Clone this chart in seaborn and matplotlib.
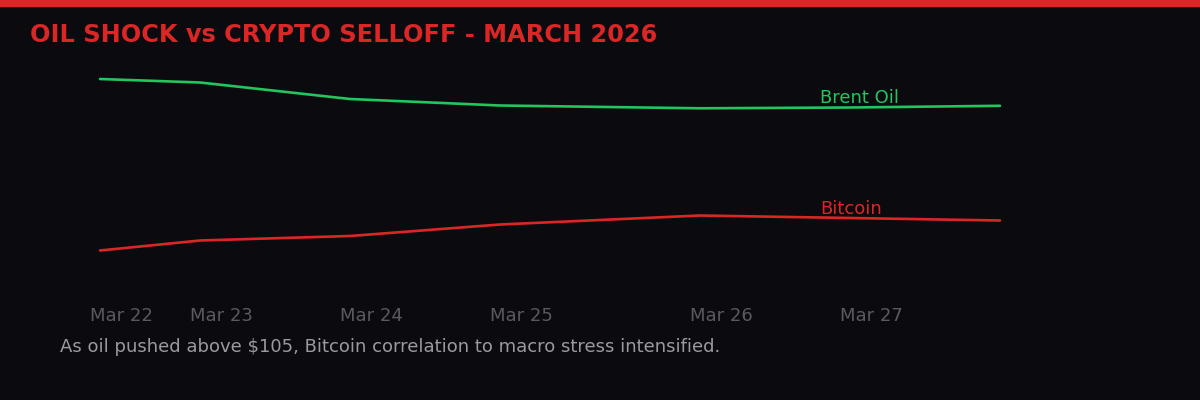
import matplotlib
matplotlib.use("Agg")
import matplotlib.pyplot as plt
import matplotlib.transforms as mtransforms
import seaborn as sns
import pandas as pd
import numpy as np

# ---- data ----
dates = ["Mar 22", "Mar 23", "Mar 24", "Mar 25", "Mar 26", "Mar 27", "Mar 28"]
day_pos = [0.0, 1.0, 2.5, 4.0, 6.0, 7.5, 9.0]          # time axis (days, uneven sampling)
brent_index = [221.0, 217.5, 201.0, 194.5, 191.7, 192.5, 194.2]
bitcoin_index = [49.5, 59.5, 64.0, 75.5, 84.5, 82.0, 79.5]
tick_labels = ["Mar 22", "Mar 23", "Mar 24", "Mar 25", "Mar 26", "Mar 27"]
series_names = ["Brent Oil", "Bitcoin"]

title = "OIL SHOCK vs CRYPTO SELLOFF - MARCH 2026"
subtitle = "As oil pushed above $105, Bitcoin correlation to macro stress intensified."

BG = "#0b0b0f"
RED = "#dc2626"
GREEN = "#22c55e"

df = pd.concat([
    pd.DataFrame({"t": day_pos, "value": brent_index, "series": series_names[0]}),
    pd.DataFrame({"t": day_pos, "value": bitcoin_index, "series": series_names[1]}),
])

sns.set_theme(style="dark")
plt.rcParams["font.family"] = ["DejaVu Sans"]

fig = plt.figure(figsize=(12, 4), dpi=100, facecolor=BG)
ax = fig.add_axes([0, 0.25, 1, 0.6])
ax.set_facecolor(BG)

sns.lineplot(data=df, x="t", y="value", hue="series",
             palette={series_names[0]: GREEN, series_names[1]: RED},
             linewidth=1.9, ax=ax, legend=False)

ax.set_xlim(-1, 11)
ax.set_ylim(0, 240)
ax.set_xlabel("")
ax.set_ylabel("")
ax.set_yticks([])
ax.grid(False)
for s in ax.spines.values():
    s.set_visible(False)

ax.set_xticks(day_pos[:len(tick_labels)])
ax.set_xticklabels(tick_labels)
ax.tick_params(axis="x", length=0, pad=5, labelsize=13, labelcolor="#5a5a5f")
offset = mtransforms.ScaledTranslation(-10 / 100, 0, fig.dpi_scale_trans)
for lab in ax.get_xticklabels():
    lab.set_horizontalalignment("left")
    lab.set_transform(lab.get_transform() + offset)

# series end labels
ax.text(7.2, brent_index[5] + 0.5, series_names[0], color=GREEN, fontsize=13, ha="left", va="bottom")
ax.text(7.2, bitcoin_index[5] - 0.5, series_names[1], color=RED, fontsize=13, ha="left", va="bottom")

# top bar
fig.patches.append(matplotlib.patches.Rectangle((0, 1 - 6 / 400), 1, 6 / 400,
                                                transform=fig.transFigure, color=RED, zorder=5))

fig.text(30 / 1200, 1 - 23 / 400, title, color=RED, fontsize=17.3, fontweight="bold",
         ha="left", va="top")
fig.text(60 / 1200, 1 - 352 / 400, subtitle, color="#9a9a9f", fontsize=13,
         ha="left", va="baseline")

fig.savefig("out.png", dpi=100, facecolor=BG)
